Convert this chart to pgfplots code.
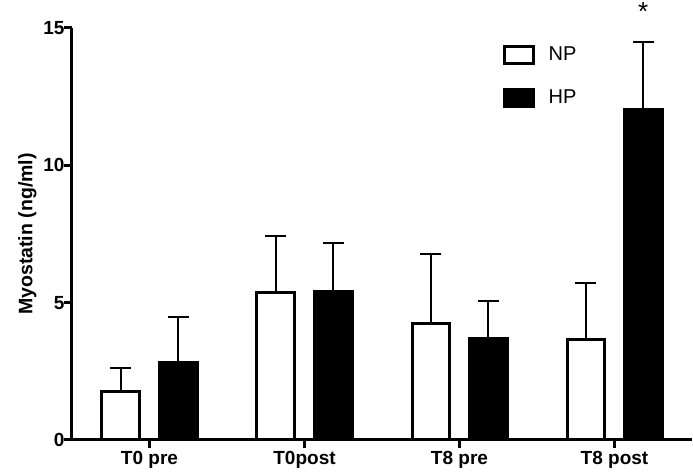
\documentclass[border=0pt]{standalone}
\usepackage{fontspec}
\setmainfont{Liberation Sans}
\usepackage{pgfplots}
\pgfplotsset{compat=1.18}
\begin{document}
\begin{tikzpicture}
\begin{axis}[
  name=ax, at={(0,0)}, anchor=south west,
  scale only axis, width=620pt, height=412pt,
  xmin=-0.5, xmax=3.5, ymin=0, ymax=15,
  axis x line=bottom, axis y line=left,
  axis line style={line width=3pt, -},
  xtick={0,1,2,3}, xticklabels={T0 pre, T0post, T8 pre, T8 post},
  ytick={0,5,10,15},
  tick style={line width=3pt, black},
  major tick length=8pt,
  tick align=outside,
  ticklabel style={font=\bfseries\fontsize{19}{19}\selectfont},
  yticklabel style={xshift=4pt},
  /pgf/number format/assume math mode=true,
  ylabel={Myostatin (ng/ml)},
  ylabel style={font=\bfseries\fontsize{19.5}{20}\selectfont},
  ybar=20pt, bar width=37.5pt,
  clip=false,
  legend style={at={(rel axis cs:0.695,0.96)}, anchor=north west, draw=none, fill=none,
    inner sep=0pt, row sep=23pt, font=\fontsize{20}{20}\selectfont},
  legend cell align=left,
  legend image code/.code={\draw[#1, line width=3pt] (0pt,-8.5pt) rectangle (29pt,8.5pt); \path[draw=none, fill=none] (0pt,0pt) -- (42pt,0pt);},
]
\addplot[fill=white, draw=black, line width=3pt,
  error bars/.cd, y dir=plus, y explicit,
  error bar style={line width=2pt, black},
  error mark options={rotate=90, mark size=10.5pt, line width=2pt, black}]
  coordinates {(0,1.78) +- (0,0.85) (1,5.36) +- (0,2.06) (2,4.25) +- (0,2.53) (3,3.66) +- (0,2.07)};
\addlegendentry{NP}
\addplot[fill=black, draw=black, line width=3pt,
  error bars/.cd, y dir=plus, y explicit,
  error bar style={line width=2pt, black},
  error mark options={rotate=90, mark size=10.5pt, line width=2pt, black}]
  coordinates {(0,2.82) +- (0,1.67) (1,5.42) +- (0,1.76) (2,3.69) +- (0,1.38) (3,12.03) +- (0,2.47)};
\addlegendentry{HP}
\node[font=\fontsize{26}{26}\selectfont, anchor=base] at (axis cs:3.185,15.26) {*};
\end{axis}
\pgfresetboundingbox
\path[use as bounding box] ([xshift=-72pt,yshift=-33pt]ax.south west) rectangle ([xshift=1pt,yshift=28pt]ax.north east);
\end{tikzpicture}
\end{document}
